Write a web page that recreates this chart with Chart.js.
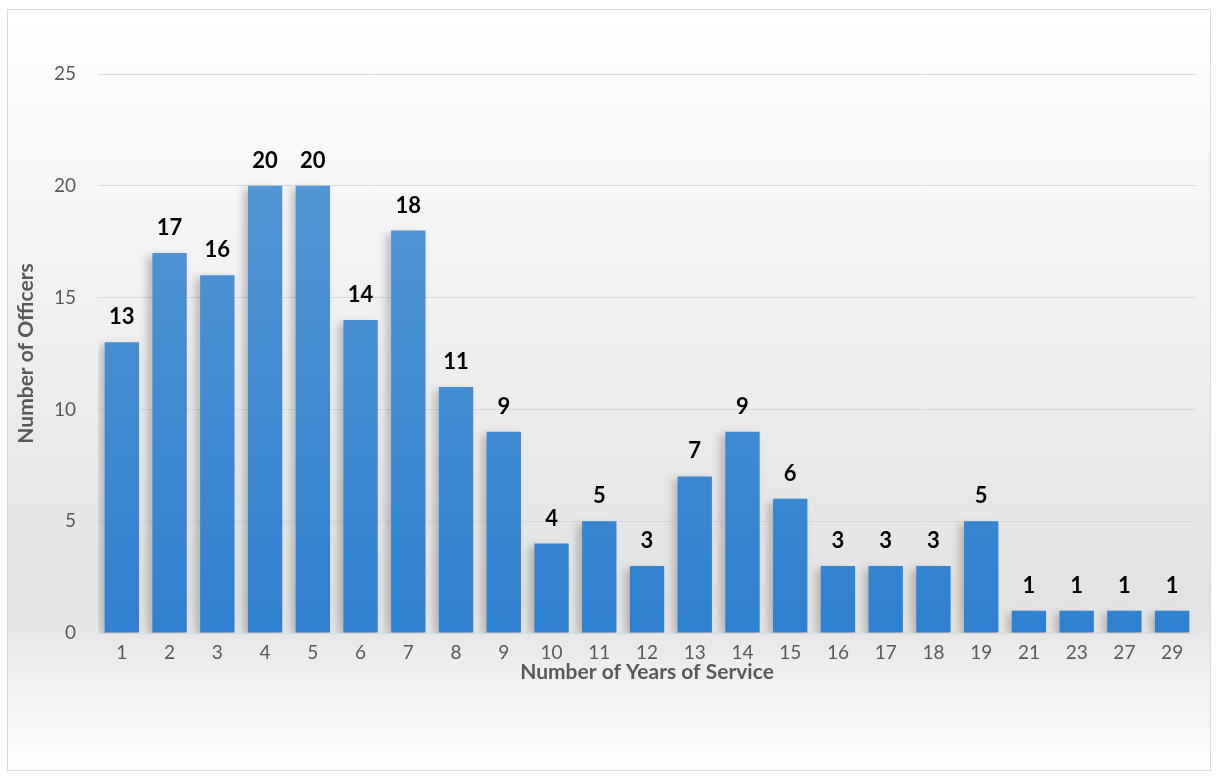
<!DOCTYPE html>
<html>
<head>
<meta charset="utf-8">
<script src="https://cdn.jsdelivr.net/npm/chart.js@4/dist/chart.umd.min.js"></script>
<style>
    html, body { margin: 0; padding: 0; background: #ffffff; }
    #box {
        position: absolute; left: 7px; top: 9px;
        width: 1202px; height: 760px;
        border: 1px solid #d9d9d9;
    }
</style>
</head>
<body>
<div id="box"><canvas id="dataChart" width="1202" height="760"></canvas></div>
<script>
// Number of years of service and count of officers
const years = ["1", "2", "3", "4", "5", "6", "7", "8", "9", "10", "11", "12", "13", "14", "15", "16", "17", "18", "19", "21", "23", "27", "29"];
const officers = [13, 17, 16, 20, 20, 14, 18, 11, 9, 4, 5, 3, 7, 9, 6, 3, 3, 3, 5, 1, 1, 1, 1];
const yTicks = [0, 5, 10, 15, 20, 25];

document.addEventListener("DOMContentLoaded", () => {
    const ctx = document.getElementById("dataChart").getContext("2d");

    // Background: white at top, light gray near the axis, white at bottom
    const backdrop = {
        id: "backdrop",
        beforeDraw(chart) {
            const c = chart.ctx;
            const h = chart.height;
            const g = c.createLinearGradient(0, 0, 0, h);
            g.addColorStop(0, "#ffffff");
            g.addColorStop(0.4, "#f0f0f0");
            g.addColorStop(0.78, "#e3e3e3");
            g.addColorStop(1, "#ffffff");
            c.save();
            c.fillStyle = g;
            c.fillRect(0, 0, chart.width, h);
            c.restore();
        },
    };

    // soft shadow under the bars
    const barShadow = {
        id: "barShadow",
        beforeDatasetsDraw(chart) {
            const c = chart.ctx;
            c.save();
            c.shadowColor = "rgba(0, 0, 0, 0.22)";
            c.shadowBlur = 8;
            c.shadowOffsetX = -5;
            c.shadowOffsetY = 3;
        },
        afterDatasetsDraw(chart) {
            chart.ctx.restore();
        },
    };

    // Bold value labels above bars
    const valueLabels = {
        id: "valueLabels",
        afterDatasetsDraw(chart) {
            const c = chart.ctx;
            const meta = chart.getDatasetMeta(0);
            c.save();
            c.font = "bold 22px Lato";
            c.fillStyle = "#000000";
            c.textAlign = "center";
            c.textBaseline = "alphabetic";
            meta.data.forEach((bar, i) => {
                c.fillText(String(officers[i]), bar.x, bar.y - 18);
            });
            c.restore();
        },
    };

    new Chart(ctx, {
        type: "bar",
        data: {
            labels: years,
            datasets: [
                {
                    label: "Number of Officers",
                    data: officers,
                    backgroundColor: (context) => {
                        const area = context.chart.chartArea;
                        if (!area) return "#4a8fd6";
                        const g = context.chart.ctx.createLinearGradient(0, area.top, 0, area.bottom);
                        g.addColorStop(0, "#5b9bd5");
                        g.addColorStop(1, "#2f80d0");
                        return g;
                    },
                    borderWidth: 0,
                    barPercentage: 0.72,
                    categoryPercentage: 1.0,
                },
            ],
        },
        options: {
            responsive: false,
            animation: false,
            layout: {
                padding: { top: 64, right: 14, bottom: 85, left: 0 },
            },
            plugins: {
                legend: { display: false },
                tooltip: { enabled: false },
            },
            scales: {
                x: {
                    grid: { display: false },
                    border: { color: "#d9d9d9", width: 1 },
                    ticks: {
                        color: "#595959",
                        font: { family: "Lato", size: 19 },
                        padding: 0,
                    },
                    title: {
                        display: true,
                        text: "Number of Years of Service",
                        color: "#595959",
                        font: { family: "Lato", size: 21, weight: "bold" },
                        padding: { top: 0, bottom: 0 },
                    },
                    afterFit(axis) {
                        axis.height = 52;
                    },
                },
                y: {
                    min: 0,
                    max: 25,
                    afterBuildTicks(axis) {
                        axis.ticks = yTicks.map((v) => ({ value: v }));
                    },
                    grid: { color: "#d9d9d9", drawTicks: false },
                    border: { display: false },
                    ticks: {
                        color: "#595959",
                        font: { family: "Lato", size: 19 },
                        padding: 22,
                    },
                    title: {
                        display: true,
                        text: "Number of Officers",
                        color: "#595959",
                        font: { family: "Lato", size: 21, weight: "bold" },
                        padding: { top: 6, bottom: 0 },
                    },
                    afterFit(axis) {
                        axis.width = 90;
                    },
                },
            },
        },
        plugins: [backdrop, barShadow, valueLabels],
    });
});
</script>
</body>
</html>
